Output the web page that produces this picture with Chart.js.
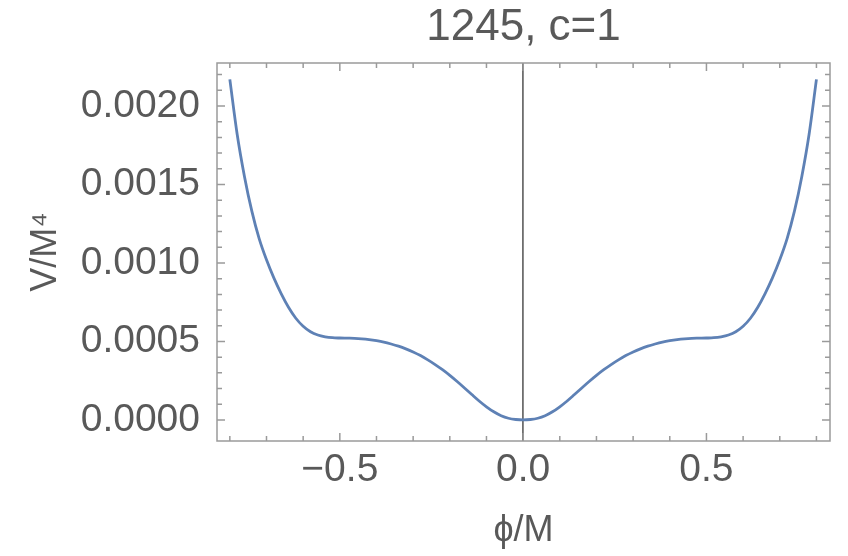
<!DOCTYPE html>
<html>
    <head>
        <title>1245, c=1</title>
        <script src="https://cdn.jsdelivr.net/npm/chart.js@4.4.0/dist/chart.umd.min.js"></script>
        <style>
            body { margin: 0; background: white; }
        </style>
        <script type="text/javascript">
            // potential, phi/M on x and V/M^4 on y
            const phiValues = [
                -0.80, -0.78, -0.76, -0.74, -0.72, -0.70, -0.68, -0.66, -0.64, -0.62,
                -0.60, -0.58, -0.56, -0.54, -0.52, -0.50, -0.48, -0.46, -0.44, -0.42,
                -0.40, -0.38, -0.36, -0.34, -0.32, -0.30, -0.28, -0.26, -0.24, -0.22,
                -0.20, -0.18, -0.16, -0.14, -0.12, -0.10, -0.08, -0.06, -0.04, -0.02,
                0.00,
                0.02, 0.04, 0.06, 0.08, 0.10, 0.12, 0.14, 0.16, 0.18, 0.20,
                0.22, 0.24, 0.26, 0.28, 0.30, 0.32, 0.34, 0.36, 0.38, 0.40,
                0.42, 0.44, 0.46, 0.48, 0.50, 0.52, 0.54, 0.56, 0.58, 0.60,
                0.62, 0.64, 0.66, 0.68, 0.70, 0.72, 0.74, 0.76, 0.78, 0.80
            ];
            const vValues = [
                0.002170, 0.001820, 0.001550, 0.001330, 0.001155, 0.001020, 0.000905, 0.000805, 0.000718, 0.000648,
                0.000597, 0.000562, 0.000541, 0.000530, 0.000524, 0.000522, 0.000521, 0.000520, 0.000517, 0.000512,
                0.000505, 0.000496, 0.000484, 0.000470, 0.000453, 0.000433, 0.000410, 0.000383, 0.000353, 0.000320,
                0.000284, 0.000245, 0.000204, 0.000162, 0.000121, 0.000084, 0.000052, 0.000027, 0.000011, 0.000003,
                0.000000,
                0.000003, 0.000011, 0.000027, 0.000052, 0.000084, 0.000121, 0.000162, 0.000204, 0.000245, 0.000284,
                0.000320, 0.000353, 0.000383, 0.000410, 0.000433, 0.000453, 0.000470, 0.000484, 0.000496, 0.000505,
                0.000512, 0.000517, 0.000520, 0.000521, 0.000522, 0.000524, 0.000530, 0.000541, 0.000562, 0.000597,
                0.000648, 0.000718, 0.000805, 0.000905, 0.001020, 0.001155, 0.001330, 0.001550, 0.001820, 0.002170
            ];
            const xMajorTicks = [-0.5, 0.0, 0.5];
            const xMinorTicks = [-0.8, -0.7, -0.6, -0.4, -0.3, -0.2, -0.1, 0.1, 0.2, 0.3, 0.4, 0.6, 0.7, 0.8];
            const yMajorTicks = [0.0000, 0.0005, 0.0010, 0.0015, 0.0020];
            const yMinorTicks = [0.0001, 0.0002, 0.0003, 0.0004, 0.0006, 0.0007, 0.0008, 0.0009,
                                 0.0011, 0.0012, 0.0013, 0.0014, 0.0016, 0.0017, 0.0018, 0.0019,
                                 0.0021, 0.0022];
            const xRange = [-0.835, 0.837];
            const yRange = [-0.000134, 0.002274];

            const textColor = '#595959';
            const frameColor = '#9a9a9a';
            const fontFamily = '"Liberation Sans", Arial, Helvetica, sans-serif';

            document.addEventListener('DOMContentLoaded', init);

            // mathematica style frame with ticks on all four sides
            const framePlugin = {
                id: 'frame',
                afterDatasetsDraw(chart) {
                    const ctx = chart.ctx;
                    const a = chart.chartArea;
                    const xs = chart.scales.x;
                    const ys = chart.scales.y;
                    ctx.save();
                    ctx.strokeStyle = frameColor;
                    ctx.lineWidth = 1.5;
                    ctx.beginPath();
                    function tickX(v, len) {
                        const px = xs.getPixelForValue(v);
                        ctx.moveTo(px, a.bottom); ctx.lineTo(px, a.bottom - len);
                        ctx.moveTo(px, a.top); ctx.lineTo(px, a.top + len);
                    }
                    function tickY(v, len) {
                        const py = ys.getPixelForValue(v);
                        ctx.moveTo(a.left, py); ctx.lineTo(a.left + len, py);
                        ctx.moveTo(a.right, py); ctx.lineTo(a.right - len, py);
                    }
                    xMajorTicks.forEach(v => tickX(v, 8));
                    xMinorTicks.forEach(v => tickX(v, 5));
                    yMajorTicks.forEach(v => tickY(v, 8));
                    yMinorTicks.forEach(v => tickY(v, 5));
                    ctx.stroke();
                    ctx.strokeRect(a.left, a.top, a.right - a.left, a.bottom - a.top);
                    ctx.restore();
                }
            };

            function init() {
                const points = phiValues.map((p, i) => ({x: p, y: vValues[i]}));
                const ctx = document.getElementById('myChart').getContext('2d');
                new Chart(ctx, {
                    type: 'line',
                    data: {
                        datasets: [{
                            data: points,
                            borderColor: '#5e81b5',
                            borderWidth: 2.8,
                            pointRadius: 0,
                            fill: false,
                            cubicInterpolationMode: 'monotone'
                        }]
                    },
                    options: {
                        responsive: false,
                        animation: false,
                        layout: { padding: { left: 0, right: 18, top: 0, bottom: 0 } },
                        plugins: {
                            legend: { display: false },
                            tooltip: { enabled: false }
                        },
                        scales: {
                            x: {
                                type: 'linear',
                                position: 'bottom',
                                min: xRange[0],
                                max: xRange[1],
                                afterBuildTicks: s => { s.ticks = xMajorTicks.map(v => ({value: v})); },
                                afterFit: s => { s.height = 115; },
                                border: { display: false },
                                grid: {
                                    drawTicks: false,
                                    lineWidth: 1.8,
                                    color: c => (c.tick && c.tick.value === 0) ? '#6e6e6e' : 'rgba(0,0,0,0)'
                                },
                                ticks: {
                                    padding: 6,
                                    color: textColor,
                                    font: { family: fontFamily, size: 39 },
                                    callback: v => v.toFixed(1).replace('-', '\u2212')
                                },
                                title: {
                                    display: true,
                                    text: '\u03d5/M',
                                    color: textColor,
                                    font: { family: fontFamily, size: 36 },
                                    padding: { top: 0, bottom: 3 }
                                }
                            },
                            x2: {
                                type: 'linear',
                                position: 'top',
                                min: xRange[0],
                                max: xRange[1],
                                afterFit: s => { s.height = 63; },
                                border: { display: false },
                                grid: { display: false },
                                ticks: { display: false },
                                title: {
                                    display: true,
                                    text: '1245, c=1',
                                    color: textColor,
                                    font: { family: fontFamily, size: 44 },
                                    padding: { top: 1, bottom: 0 }
                                }
                            },
                            y: {
                                type: 'linear',
                                min: yRange[0],
                                max: yRange[1],
                                afterBuildTicks: s => { s.ticks = yMajorTicks.map(v => ({value: v})); },
                                afterFit: s => { s.width = 217; },
                                border: { display: false },
                                grid: { display: false },
                                ticks: {
                                    padding: 9,
                                    color: textColor,
                                    font: { family: fontFamily, size: 39 },
                                    callback: v => v.toFixed(4)
                                },
                                title: {
                                    display: true,
                                    text: 'V/M\u2074',
                                    color: textColor,
                                    font: { family: fontFamily, size: 36 },
                                    padding: { top: 24, bottom: 0 }
                                }
                            }
                        }
                    },
                    plugins: [framePlugin]
                });
            }
        </script>
    </head>
    <body>
        <div style="width: 848px; height: 556px;">
            <canvas id="myChart" width="848" height="556"></canvas>
        </div>
    </body>
</html>
